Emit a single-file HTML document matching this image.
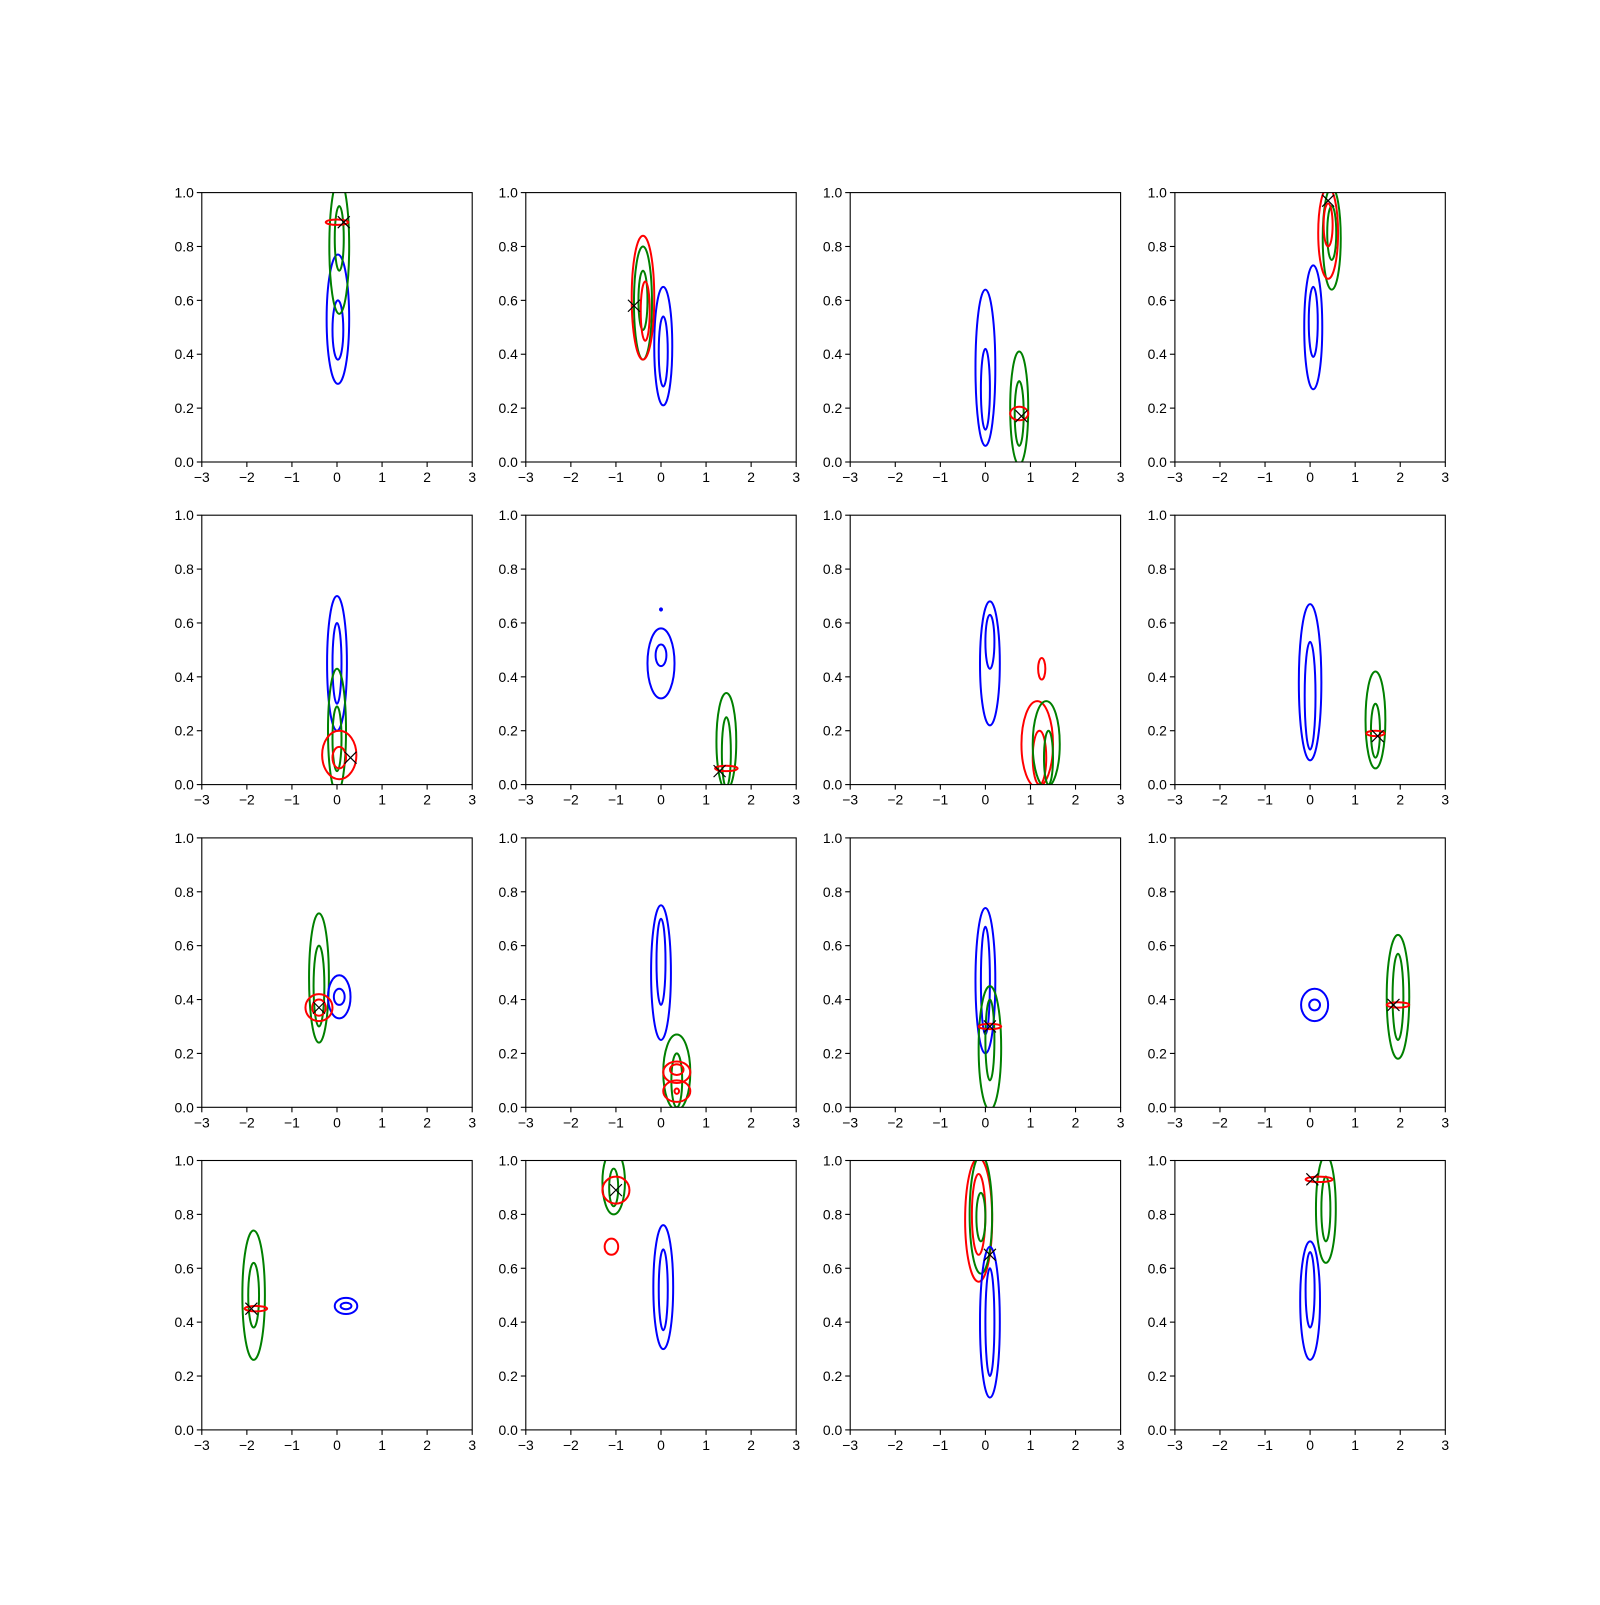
<!DOCTYPE html>
<html><head><meta charset="utf-8"><style>
body{margin:0;background:#fff}
svg text{font-family:"Liberation Sans","DejaVu Sans",sans-serif;font-size:13.9px;fill:#000}
</style></head><body>
<svg id="fig" width="1600" height="1600" xmlns="http://www.w3.org/2000/svg"></svg>
<script>
// panel layout
const colLeft=[201.8,525.8,850.2,1174.9], rowTop=[192.6,515.2,837.9,1160.5], PW=270.4, PH=269.4;
const xTicks=[-3,-2,-1,0,1,2,3];
const xTickLabels=["\u22123","\u22122","\u22121","0","1","2","3"];
const yTicks=[0,0.2,0.4,0.6,0.8,1.0];
const yTickLabels=["0.0","0.2","0.4","0.6","0.8","1.0"];
// contour data: panel index, color, center x, center y, half-width, half-height
const cPanel=[0,0,0,0,0, 1,1,1,1,1,1, 2,2,2,2,2, 3,3,3,3,3,3,
 4,4,4,4,4,4, 5,5,5,5,5,5, 6,6,6,6,6,6,6, 7,7,7,7,7,
 8,8,8,8,8,8, 9,9,9,9,9,9,9,9, 10,10,10,10,10, 11,11,11,11,11,
 12,12,12,12,12, 13,13,13,13,13,13, 14,14,14,14,14,14, 15,15,15,15,15];
const cColor=["b","b","g","g","r", "b","b","g","g","r","r", "b","b","g","g","r", "b","b","g","g","r","r",
 "b","b","g","g","r","r", "b","b","b","g","g","r", "b","b","r","r","r","g","g", "b","b","g","g","r",
 "g","g","b","b","r","r", "b","b","g","g","r","r","r","r", "b","b","g","g","r", "b","b","g","g","r",
 "g","g","b","b","r", "g","g","r","r","b","b", "r","r","g","g","b","b", "b","b","g","g","r"];
const cX=[0.02,0.02,0.05,0.05,0.0, 0.05,0.05,-0.4,-0.4,-0.4,-0.35, 0.0,0.0,0.75,0.75,0.75, 0.07,0.07,0.48,0.48,0.4,0.4,
 0.0,0.0,0.0,0.0,0.05,0.05, 0.0,0.0,0.0,1.45,1.45,1.45, 0.1,0.1,1.15,1.2,1.25,1.35,1.4, 0.0,0.0,1.45,1.45,1.45,
 -0.4,-0.4,0.05,0.05,-0.4,-0.4, 0.0,0.0,0.35,0.35,0.35,0.35,0.35,0.35, 0.0,0.0,0.1,0.1,0.1, 0.1,0.1,1.95,1.95,1.95,
 -1.85,-1.85,0.2,0.2,-1.8, -1.05,-1.05,-1.0,-1.1,0.05,0.05, -0.15,-0.15,-0.1,-0.1,0.1,0.1, 0.0,0.0,0.35,0.35,0.2];
const cY=[0.53,0.49,0.8,0.83,0.89, 0.43,0.41,0.59,0.6,0.61,0.56, 0.35,0.27,0.2,0.18,0.18, 0.5,0.52,0.83,0.85,0.85,0.88,
 0.45,0.45,0.2,0.17,0.11,0.1, 0.45,0.48,0.65,0.16,0.12,0.06, 0.45,0.53,0.15,0.1,0.43,0.15,0.1, 0.38,0.33,0.24,0.2,0.19,
 0.48,0.45,0.41,0.41,0.37,0.37, 0.5,0.54,0.13,0.1,0.13,0.06,0.14,0.06, 0.47,0.47,0.22,0.25,0.3, 0.38,0.38,0.41,0.41,0.38,
 0.5,0.5,0.46,0.46,0.45, 0.92,0.9,0.89,0.68,0.53,0.52, 0.78,0.8,0.8,0.79,0.4,0.4, 0.48,0.52,0.82,0.82,0.93];
const cRx=[0.25,0.12,0.22,0.1,0.25, 0.2,0.1,0.2,0.1,0.25,0.1, 0.22,0.1,0.2,0.1,0.2, 0.2,0.1,0.2,0.1,0.22,0.1,
 0.22,0.1,0.2,0.1,0.38,0.15, 0.3,0.12,0.02,0.22,0.1,0.25, 0.22,0.1,0.35,0.15,0.08,0.3,0.1, 0.25,0.12,0.22,0.1,0.2,
 0.22,0.12,0.25,0.12,0.3,0.15, 0.22,0.1,0.3,0.12,0.3,0.3,0.15,0.05, 0.22,0.1,0.25,0.1,0.25, 0.3,0.12,0.25,0.12,0.25,
 0.25,0.12,0.25,0.12,0.25, 0.25,0.1,0.3,0.15,0.22,0.1, 0.3,0.15,0.25,0.1,0.22,0.1, 0.22,0.1,0.22,0.1,0.3];
const cRy=[0.24,0.11,0.25,0.12,0.01, 0.22,0.13,0.21,0.11,0.23,0.11, 0.29,0.15,0.21,0.12,0.025, 0.23,0.13,0.19,0.1,0.17,0.08,
 0.25,0.15,0.23,0.12,0.09,0.04, 0.13,0.04,0.004,0.18,0.13,0.01, 0.23,0.1,0.16,0.1,0.04,0.16,0.1, 0.29,0.2,0.18,0.1,0.01,
 0.24,0.15,0.08,0.03,0.05,0.03, 0.25,0.16,0.14,0.1,0.04,0.04,0.02,0.01, 0.27,0.2,0.23,0.15,0.01, 0.06,0.02,0.23,0.16,0.01,
 0.24,0.12,0.03,0.012,0.01, 0.12,0.07,0.05,0.03,0.23,0.15, 0.23,0.15,0.22,0.09,0.28,0.2, 0.22,0.14,0.2,0.12,0.01];
const mX=[0.15,-0.6,0.8,0.4, 0.3,1.3,null,1.5, -0.4,null,0.1,1.85, -1.9,-1.0,0.1,0.05];
const mY=[0.89,0.58,0.17,0.97, 0.1,0.05,null,0.18, 0.37,null,0.3,0.38, 0.45,0.89,0.65,0.93];
const colors={b:"#0000ff",g:"#008000",r:"#ff0000"};
const NS="http://www.w3.org/2000/svg", fig=document.getElementById('fig');
function mk(t,a,p){const e=document.createElementNS(NS,t);for(const k in a)e.setAttribute(k,a[k]);(p||fig).appendChild(e);return e;}
const defs=mk('defs',{});
for(let p=0;p<16;p++){
  const L=colLeft[p%4],T=rowTop[Math.floor(p/4)];
  const sx=v=>L+(v+3)/6*PW, sy=v=>T+PH-v*PH;
  const g=mk('g',{});
  
  
  const cp=mk('clipPath',{id:'c'+p},defs);mk('rect',{x:L,y:T,width:PW,height:PH},cp);
  const plot=mk('g',{'clip-path':'url(#c'+p+')'},g);
  for(let i=0;i<cPanel.length;i++){if(cPanel[i]!==p)continue;
    const e=mk('ellipse',{cx:sx(cX[i]),cy:sy(cY[i]),rx:Math.max(1,cRx[i]/6*PW),ry:Math.max(1,cRy[i]*PH),fill:'none',stroke:colors[cColor[i]],'stroke-width':2},plot);
    
    
  }
  if(mX[p]!==null){const x=sx(mX[p]),y=sy(mY[p]),s=6;
    const m=mk('path',{d:`M${x-s},${y-s}L${x+s},${y+s}M${x-s},${y+s}L${x+s},${y-s}`,stroke:'#000','stroke-width':1.2},plot);
    
    }
  const fr=mk('rect',{x:L,y:T,width:PW,height:PH,fill:'none',stroke:'#000','stroke-width':1.1},g);
  
  
  xTicks.forEach((v,i)=>{const x=sx(v);mk('line',{x1:x,x2:x,y1:T+PH,y2:T+PH+5,stroke:'#000','stroke-width':1.1},g);
    const t=mk('text',{x:x,y:T+PH+20,'text-anchor':'middle'},g);t.textContent=xTickLabels[i];
    
    });
  yTicks.forEach((v,i)=>{const y=sy(v);mk('line',{x1:L-5,x2:L,y1:y,y2:y,stroke:'#000','stroke-width':1.1},g);
    const t=mk('text',{x:L-8,y:y+5,'text-anchor':'end'},g);t.textContent=yTickLabels[i];
    
    });
}
</script>
</body></html>
